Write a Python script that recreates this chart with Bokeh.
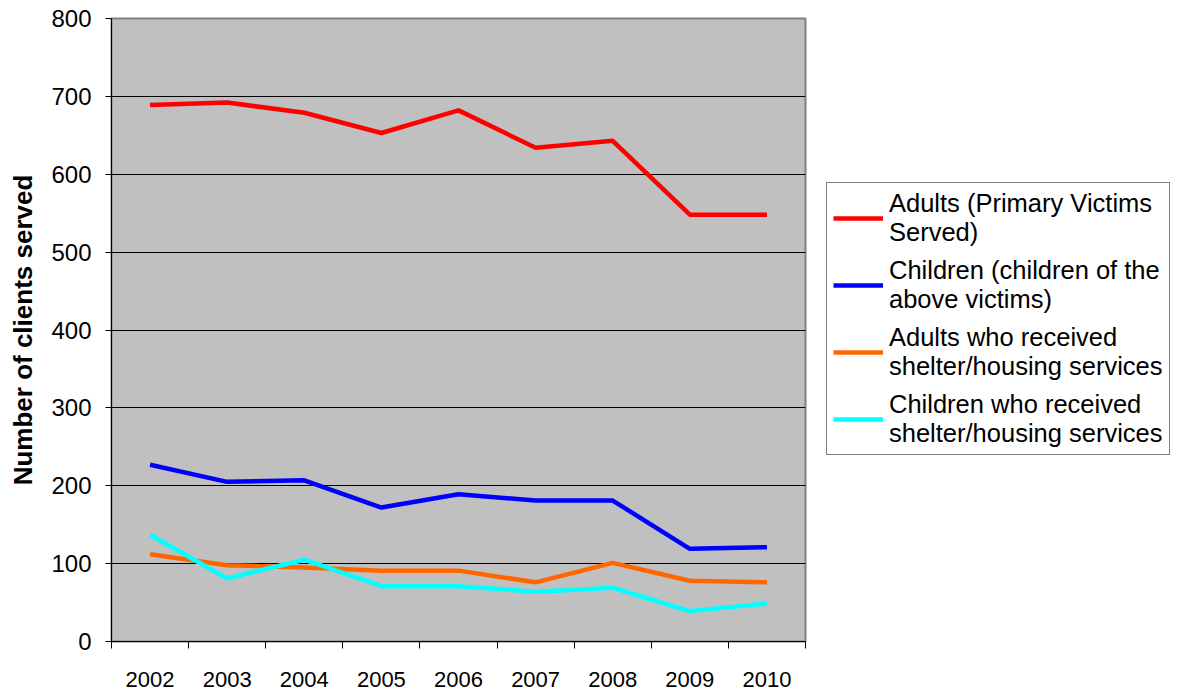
from bokeh.plotting import figure
from bokeh.models import Legend, LegendItem, FixedTicker, Range1d
from bokeh.embed import file_html
from bokeh.resources import INLINE

years = ["2002", "2003", "2004", "2005", "2006", "2007", "2008", "2009", "2010"]
adults = [689, 692, 679, 653, 682, 634, 643, 548, 548]
children = [227, 205, 207, 172, 189, 181, 181, 119, 121]
adults_shelter = [112, 98, 95, 91, 91, 76, 101, 78, 76]
children_shelter = [137, 81, 105, 71, 71, 64, 69, 39, 49]
y_ticks = [0, 100, 200, 300, 400, 500, 600, 700, 800]

series = [
    ("Adults (Primary Victims\nServed)", adults, "#FF0000"),
    ("Children (children of the\nabove victims)", children, "#0000FF"),
    ("Adults who received\nshelter/housing services", adults_shelter, "#FF6600"),
    ("Children who received\nshelter/housing services", children_shelter, "#00FFFF"),
]

xs = [i + 0.5 for i in range(len(years))]
FONT = "Liberation Sans"

p = figure(frame_width=694, frame_height=623, min_border_left=111, min_border_right=2,
           min_border_top=18, min_border_bottom=50, output_backend="svg",
           toolbar_location=None, x_range=Range1d(0, len(years)), y_range=Range1d(0, 800))
p.border_fill_color = "white"
p.background_fill_color = "#C0C0C0"
p.outline_line_color = "#808080"
p.outline_line_width = 2

items = []
for label, vals, color in series:
    r = p.line(xs, vals, line_color=color, line_width=4.5)
    items.append(LegendItem(label=label, renderers=[r]))

# x axis
p.xaxis.ticker = FixedTicker(ticks=xs, minor_ticks=list(range(len(years) + 1)))
p.xaxis.major_label_overrides = {x: y for x, y in zip(xs, years)}
p.xaxis.major_tick_out = 0
p.xaxis.major_tick_in = 0
p.xaxis.minor_tick_out = 7
p.xaxis.minor_tick_in = 0
p.xaxis.minor_tick_line_color = "black"
p.xaxis.major_label_standoff = 23
p.xaxis.major_label_text_font = FONT
p.xaxis.major_label_text_font_size = "22px"
p.xaxis.major_label_text_color = "black"
p.xaxis.axis_line_color = "black"
p.xgrid.visible = False

# y axis
p.yaxis.ticker = FixedTicker(ticks=y_ticks, minor_ticks=[])
p.yaxis.major_tick_out = 6
p.yaxis.major_tick_in = 0
p.yaxis.major_tick_line_color = "black"
p.yaxis.axis_line_color = "black"
p.yaxis.major_label_standoff = 14
p.yaxis.major_label_text_font = FONT
p.yaxis.major_label_text_font_size = "24px"
p.yaxis.major_label_text_color = "black"
p.yaxis.axis_label = "Number of clients served"
p.yaxis.axis_label_text_font = FONT
p.yaxis.axis_label_text_font_size = "26px"
p.yaxis.axis_label_text_font_style = "bold"
p.yaxis.axis_label_text_color = "black"
p.yaxis.axis_label_standoff = 10
p.ygrid.grid_line_color = "black"
p.ygrid.grid_line_width = 1
p.ygrid.ticker = FixedTicker(ticks=y_ticks)

legend = Legend(items=items, location=(21, 186))
legend.label_text_font = FONT
legend.label_text_font_size = "25.5px"
legend.label_text_color = "black"
legend.glyph_width = 50
legend.glyph_height = 24
legend.label_standoff = 6
legend.spacing = 9
legend.padding = 6
legend.margin = 0
legend.border_line_color = "black"
legend.border_line_width = 1
legend.background_fill_color = "white"
legend.background_fill_alpha = 1
p.add_layout(legend, "right")

open("out.html", "w").write(file_html(p, INLINE))
